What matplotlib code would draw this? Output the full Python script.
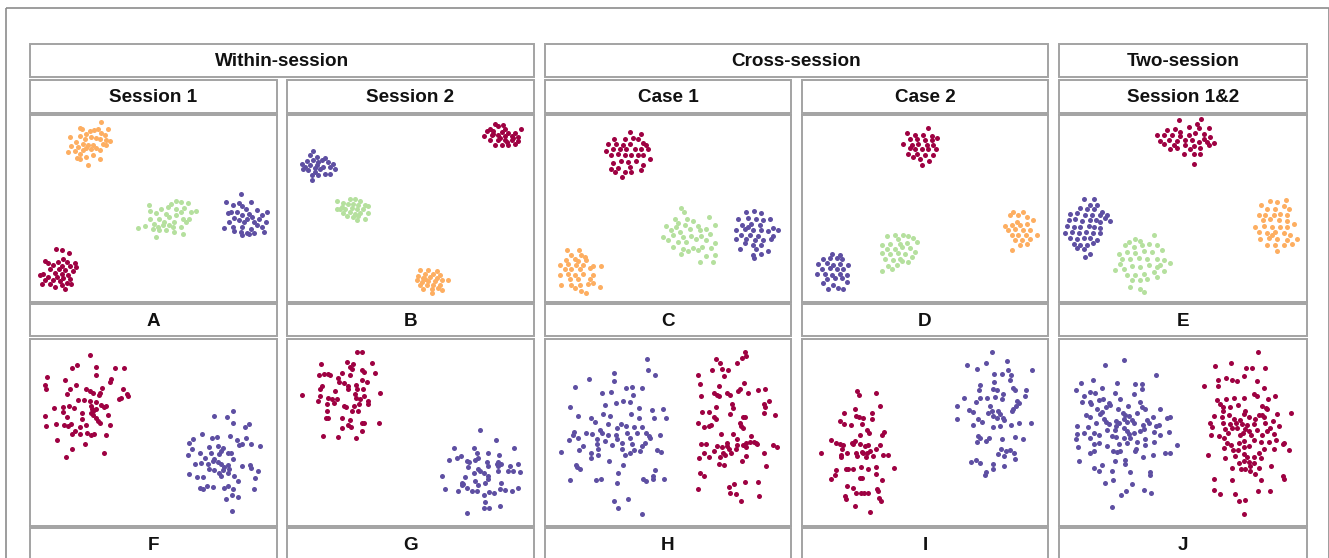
import numpy as np
import matplotlib
matplotlib.use("Agg")
import matplotlib.pyplot as plt
from matplotlib.patches import Rectangle

# cluster colours (Spectral-like)
RED, ORANGE, GREEN, PURPLE = "#9e0142", "#fdae61", "#b5e09e", "#5e4fa2"

GROUPS = ["Within-session", "Cross-session", "Two-session"]
SUBTITLES = ["Session 1", "Session 2", "Case 1", "Case 2", "Session 1&2"]
TOP_LABELS = ["A", "B", "C", "D", "E"]
BOTTOM_LABELS = ["F", "G", "H", "I", "J"]

# embedding coordinates (panel units, y grows downward)
A_ORANGE = [(213,30),(150,48),(157,50),(205,50),(235,52),(180,58),(192,55),(170,65),(215,62),(225,68),
            (120,75),(150,72),(165,80),(185,75),(200,78),(210,80),(230,85),(240,88),(140,90),(160,95),
            (175,98),(190,100),(220,95),(125,103),(145,105),(170,108),(200,108),(230,100),(115,120),(135,118),
            (150,125),(160,115),(185,112),(210,115),(142,138),(150,140),(170,135),(190,130),(212,140),(175,158)]
A_GREEN = [(440,268),(455,270),(475,272),(425,275),(357,278),(415,285),(440,290),(465,288),(500,297),(485,300),
           (395,292),(360,298),(380,302),(410,305),(455,300),(440,310),(420,315),(390,320),(360,320),(480,320),
           (460,322),(470,330),(435,330),(405,330),(375,335),(345,342),(325,348),(385,345),(400,340),(430,345),
           (455,345),(370,352),(390,355),(410,355),(460,365),(435,360),(380,375),(420,340)]
A_PURPLE = [(635,247),(590,270),(630,272),(665,270),(610,280),(640,283),(605,300),(650,290),(685,293),(715,300),
            (595,302),(625,300),(660,305),(700,310),(640,310),(670,315),(615,318),(655,320),(690,322),(600,330),
            (630,325),(645,330),(675,330),(710,330),(585,347),(610,345),(640,345),(665,350),(685,340),(700,345),
            (615,358),(635,360),(655,362),(675,362),(705,360),(640,370),(660,365)]
A_RED = [(78,412),(95,415),(118,422),(100,440),(45,448),(55,452),(85,450),(110,450),(135,453),(70,460),
         (95,462),(120,462),(140,465),(60,472),(88,472),(105,475),(130,478),(40,485),(75,482),(95,485),
         (115,490),(30,490),(55,495),(80,495),(100,498),(120,500),(45,505),(70,505),(90,508),(110,512),
         (35,515),(60,515),(95,518),(75,525),(105,532),(125,515)]

B_RED = [(630,37),(640,42),(660,50),(615,50),(708,52),(605,58),(625,58),(650,60),(670,62),(690,62),
         (598,72),(620,70),(640,70),(660,72),(680,72),(700,75),(615,85),(640,85),(660,85),(680,85),
         (698,88),(630,98),(650,100),(670,100),(690,95),(625,65),(645,78),(665,90),(685,78),(655,40)]
B_PURPLE = [(85,118),(75,128),(95,135),(120,138),(65,148),(50,155),(85,145),(100,150),(130,150),(145,155),
            (60,165),(75,160),(95,160),(115,165),(135,165),(150,170),(70,175),(90,180),(105,172),(80,190),
            (100,188),(120,185),(135,185),(80,205),(110,145),(55,170),(90,168)]
B_GREEN = [(195,262),(210,262),(225,268),(155,268),(175,272),(190,275),(205,275),(220,280),(240,280),(250,283),
           (165,290),(180,290),(200,288),(215,292),(235,292),(155,292),(175,302),(195,300),(210,305),(225,302),
           (248,302),(185,312),(205,315),(220,312),(240,322),(215,325),(170,285)]
B_ORANGE = [(405,475),(430,475),(455,478),(420,485),(445,485),(465,490),(400,493),(415,497),(435,495),(455,497),
            (395,505),(410,510),(430,508),(450,508),(470,505),(488,503),(405,518),(425,520),(445,520),(465,518),
            (415,530),(440,532),(460,528),(470,535),(440,542),(420,500)]

C_RED = [(262,60),(295,66),(212,82),(245,80),(270,78),(285,80),(195,95),(220,95),(240,98),(260,95),
         (300,92),(310,100),(190,118),(210,112),(230,110),(250,112),(275,110),(295,112),(315,112),(205,130),
         (225,125),(245,130),(265,130),(285,128),(300,130),(322,140),(210,152),(235,148),(255,150),(280,148),
         (205,170),(225,168),(260,165),(300,160),(215,180),(245,180),(265,180),(295,175),(237,195)]
C_GREEN = [(415,288),(422,300),(395,320),(432,320),(497,315),(450,328),(370,342),(405,333),(425,340),(465,342),
           (515,338),(385,355),(410,360),(440,352),(470,355),(490,350),(360,375),(390,368),(420,375),(445,372),
           (475,372),(500,365),(375,385),(405,390),(430,390),(460,382),(490,385),(515,392),(390,405),(420,410),
           (450,408),(478,405),(505,408),(435,418),(465,415),(415,425),(490,432),(515,428),(470,450),(510,450),
           (400,345)]
C_PURPLE = [(610,300),(632,298),(655,302),(585,320),(615,318),(640,322),(660,325),(680,320),(598,338),(625,335),
            (650,338),(690,348),(705,355),(580,355),(605,352),(630,355),(655,355),(675,358),(595,368),(620,368),
            (645,372),(690,372),(578,380),(610,380),(635,385),(660,385),(685,380),(605,392),(630,398),(655,398),
            (590,410),(640,410),(675,418),(630,428),(655,425),(632,438),(615,345)]
C_ORANGE = [(72,415),(107,415),(85,430),(115,430),(125,435),(68,445),(95,442),(105,448),(130,445),(50,458),
            (75,455),(100,458),(120,460),(150,462),(175,462),(65,470),(85,470),(110,472),(140,468),(50,488),
            (75,485),(95,490),(120,487),(150,490),(80,500),(105,500),(140,500),(55,518),(85,520),(110,518),
            (135,515),(170,525),(95,528),(115,538),(130,542),(150,512)]

D_RED = [(385,48),(320,63),(345,70),(370,68),(395,72),(410,78),(330,82),(350,82),(375,85),(395,85),
         (310,95),(335,98),(355,95),(380,100),(400,100),(345,110),(365,112),(385,112),(408,112),(325,125),
         (350,125),(375,128),(400,130),(340,135),(360,140),(388,148),(365,160),(330,108)]
D_ORANGE = [(640,300),(668,300),(630,310),(655,310),(680,315),(700,325),(615,342),(635,340),(660,338),(680,335),
            (625,355),(645,352),(670,355),(690,355),(635,368),(655,370),(678,370),(710,368),(645,385),(665,385),
            (690,382),(660,398),(680,395),(635,413),(650,330)]
D_GREEN = [(285,368),(310,368),(325,372),(260,372),(295,382),(340,378),(245,398),(270,395),(300,395),(320,392),
           (350,390),(260,410),(285,410),(305,405),(330,408),(345,420),(245,422),(270,425),(295,422),(315,425),
           (335,435),(255,440),(280,445),(305,448),(325,450),(290,460),(265,462),(245,478),(275,472),(300,440)]
D_PURPLE = [(95,425),(120,428),(70,440),(90,438),(110,438),(125,440),(55,455),(80,452),(100,458),(120,455),
            (145,460),(65,470),(90,468),(110,470),(130,470),(50,485),(75,485),(95,490),(120,485),(140,488),
            (80,500),(105,498),(125,498),(70,512),(100,520),(140,510),(115,528),(85,530),(130,532)]

E_RED = [(365,25),(432,20),(420,35),(395,45),(330,55),(355,52),(455,48),(300,70),(320,68),(345,70),
         (370,72),(395,68),(415,62),(440,65),(460,75),(310,88),(335,85),(360,88),(385,85),(405,85),
         (425,90),(450,90),(470,92),(340,110),(360,108),(385,100),(410,102),(430,108),(455,100),(380,125),
         (410,125),(430,125),(412,155),(320,95),(350,100),(440,80),(400,110),(370,60),(425,48)]
E_PURPLE = [(82,262),(112,262),(100,280),(120,278),(70,288),(90,292),(112,292),(135,300),(40,305),(60,302),
            (85,310),(105,310),(128,310),(150,310),(35,325),(55,322),(75,328),(98,325),(118,325),(158,328),
            (30,342),(50,345),(70,345),(95,342),(112,345),(130,348),(25,362),(45,360),(65,362),(88,360),
            (108,362),(128,362),(40,378),(60,380),(80,378),(100,378),(120,385),(50,395),(70,400),(90,398),
            (108,392),(60,408),(80,410),(100,425),(85,435),(130,330),(145,318)]
E_GREEN = [(290,370),(235,382),(215,390),(250,388),(205,400),(230,405),(255,400),(275,395),(300,398),(185,425),
           (210,420),(235,422),(260,418),(285,420),(315,415),(195,440),(220,440),(245,438),(270,440),(300,440),
           (320,445),(340,452),(175,475),(200,470),(225,462),(250,465),(275,460),(300,465),(210,490),(235,488),
           (260,485),(290,480),(320,478),(225,505),(250,505),(270,500),(300,495),(250,532),(220,525),(260,540),
           (190,455),(310,458)]
E_ORANGE = [(640,268),(660,270),(688,265),(612,278),(680,282),(630,292),(655,290),(695,292),(605,310),(625,308),
            (650,310),(670,305),(690,310),(618,325),(640,322),(665,325),(690,328),(710,335),(595,345),(620,342),
            (645,345),(668,345),(690,345),(605,360),(630,362),(655,360),(680,362),(700,368),(610,380),(635,378),
            (660,380),(690,385),(720,380),(630,400),(655,398),(680,400),(660,418),(705,395),(645,370)]

F_RED = [(180,57),(128,97),(142,87),(200,92),(256,97),(282,95),(200,117),(52,124),(104,133),(245,130),
         (240,138),(45,148),(47,158),(138,147),(120,160),(170,158),(180,165),(190,172),(210,170),(217,155),
         (280,158),(110,175),(208,178),(292,175),(295,180),(267,190),(275,185),(145,192),(163,192),(180,195),
         (198,198),(72,215),(98,212),(117,210),(132,215),(185,210),(215,207),(228,210),(188,220),(190,225),
         (200,218),(222,213),(98,228),(158,232),(185,232),(190,238),(200,245),(45,240),(112,242),(158,248),
         (235,238),(205,255),(210,260),(78,263),(102,267),(115,270),(125,263),(150,272),(168,266),(240,268),
         (47,270),(135,285),(126,295),(150,293),(172,290),(185,298),(193,293),(228,298),(80,313),(165,323),
         (126,338),(222,350),(107,362)]
F_PURPLE = [(553,239),(593,243),(611,226),(611,262),(648,272),(660,265),(519,293),(490,308),(548,305),(563,302),
            (601,299),(625,313),(652,305),(480,322),(540,332),(565,330),(580,335),(630,326),(640,325),(667,325),
            (694,330),(488,338),(513,352),(528,366),(545,350),(570,355),(575,345),(596,350),(605,352),(610,368),
            (476,357),(498,383),(515,380),(535,385),(550,375),(555,370),(565,378),(575,385),(585,392),(595,388),
            (600,398),(640,390),(662,388),(665,395),(540,400),(555,402),(568,410),(580,403),(595,410),(615,420),
            (688,405),(480,415),(502,423),(522,423),(575,420),(627,434),(678,426),(512,455),(520,460),(532,450),
            (550,452),(585,455),(596,450),(612,460),(676,460),(590,488),(608,478),(628,483),(609,525)]

G_RED = [(215,47),(230,47),(108,83),(185,78),(195,92),(205,85),(200,98),(262,82),(102,118),(117,113),
         (130,113),(135,118),(172,110),(196,118),(230,103),(238,108),(270,110),(112,150),(105,158),(158,125),
         (162,138),(178,140),(190,150),(212,148),(232,133),(245,138),(150,165),(188,158),(215,160),(210,175),
         (235,160),(50,178),(105,180),(128,187),(140,190),(155,188),(212,185),(224,190),(237,180),(248,195),
         (285,170),(100,196),(125,203),(148,200),(178,210),(182,213),(208,210),(222,205),(250,205),(126,226),
         (200,225),(218,224),(123,245),(130,245),(170,245),(196,252),(230,262),(237,262),(282,260),(188,268),
         (198,272),(172,275),(232,285),(115,300),(160,303),(213,307)]
G_PURPLE = [(585,283),(633,313),(507,335),(567,335),(688,337),(527,360),(553,378),(575,352),(578,365),(610,352),
            (643,358),(515,365),(493,373),(545,375),(570,372),(605,378),(640,378),(647,383),(675,390),(700,383),
            (550,392),(580,398),(608,390),(635,385),(640,390),(470,420),(540,422),(568,410),(585,405),(598,410),
            (608,420),(638,405),(668,405),(685,405),(704,408),(530,440),(535,445),(570,435),(578,448),(600,440),
            (610,430),(648,440),(545,455),(560,465),(575,465),(612,468),(626,470),(645,460),(660,462),(680,465),
            (698,455),(480,460),(520,465),(598,478),(601,497),(645,510),(597,516),(613,516),(545,530),(530,448)]

H_PURPLE = [(313,70),(316,102),(335,118),(213,112),(137,130),(213,135),(97,153),(248,157),(268,153),(296,155),
            (177,170),(203,167),(270,177),(186,207),(219,200),(240,195),(262,198),(80,214),(289,217),(326,222),
            (359,220),(105,240),(180,233),(264,234),(144,246),(156,257),(288,247),(334,246),(369,247),(195,265),
            (235,263),(170,283),(222,275),(250,270),(273,272),(296,272),(92,288),(148,293),(178,290),(196,297),
            (220,297),(252,292),(282,290),(310,290),(318,300),(91,298),(78,311),(106,306),(162,310),(187,316),
            (223,310),(260,305),(322,306),(350,296),(306,322),(208,326),(238,321),(268,323),(162,325),(297,330),
            (53,347),(108,342),(166,340),(237,340),(273,343),(290,345),(342,341),(355,348),(143,350),(143,365),
            (165,357),(246,357),(261,352),(198,375),(240,388),(98,386),(103,392),(110,400),(335,402),(224,412),
            (81,433),(160,432),(175,430),(223,440),(300,430),(310,435),(330,420),(330,430),(362,430),(255,488),
            (214,496),(225,516),(297,535),(120,330),(130,290),(200,240)]
H_RED = [(607,47),(610,60),(598,66),(518,68),(530,80),(582,80),(506,102),(538,98),(555,102),(466,117),
         (542,120),(470,143),(602,140),(527,150),(590,160),(586,165),(512,172),(521,177),(552,172),(562,177),
         (616,170),(645,162),(667,158),(475,180),(528,180),(677,196),(663,205),(666,212),(567,203),(571,215),
         (520,212),(478,227),(498,227),(562,233),(663,230),(697,237),(512,243),(520,248),(600,242),(605,244),
         (466,260),(482,272),(497,270),(505,268),(591,262),(595,270),(600,275),(535,295),(570,295),(625,300),
         (582,310),(552,320),(620,318),(610,322),(632,318),(640,320),(642,325),(475,325),(490,325),(521,330),
         (538,332),(553,330),(559,340),(582,326),(580,338),(600,328),(608,332),(690,328),(703,332),(484,350),
         (514,345),(540,350),(545,357),(564,350),(468,365),(497,363),(530,362),(610,360),(664,352),(596,375),
         (528,383),(542,387),(668,390),(471,410),(482,420),(465,460),(558,452),(572,445),(607,438),(645,437),
         (560,472),(578,475),(595,495),(648,480)]

I_RED = [(171,165),(176,178),(227,170),(241,210),(133,230),(165,218),(167,240),(177,243),(190,245),(215,232),
         (216,248),(120,255),(133,265),(152,268),(187,265),(200,283),(206,290),(251,288),(247,298),(181,298),
         (94,313),(107,321),(120,325),(130,327),(157,320),(165,315),(160,325),(180,325),(195,330),(203,328),
         (240,328),(125,340),(140,350),(168,350),(185,348),(190,352),(200,352),(210,345),(228,340),(62,350),
         (123,358),(124,363),(171,360),(197,362),(218,360),(248,358),(264,357),(138,400),(145,398),(160,398),
         (183,394),(205,400),(228,394),(281,395),(108,403),(106,418),(94,430),(180,425),(185,425),(227,415),
         (245,432),(140,450),(158,455),(168,470),(183,472),(192,470),(205,470),(232,460),(235,465),(134,480),
         (138,488),(236,486),(242,496),(165,510),(210,528)]
I_PURPLE = [(576,48),(501,88),(532,100),(558,82),(622,76),(695,101),(606,113),(583,113),(625,103),(632,118),
            (583,138),(540,148),(538,162),(580,160),(590,163),(630,133),(640,155),(645,162),(610,173),(678,162),
            (676,181),(492,185),(541,187),(562,187),(584,182),(605,190),(528,198),(472,210),(506,222),(520,228),
            (570,210),(576,225),(595,225),(600,235),(564,232),(650,196),(658,200),(648,210),(638,218),(636,225),
            (472,250),(518,268),(533,250),(546,258),(580,240),(590,247),(610,245),(612,252),(632,268),(580,272),
            (600,270),(658,262),(693,262),(533,300),(540,305),(530,318),(557,316),(567,306),(605,310),(645,303),
            (668,308),(604,338),(618,345),(630,342),(641,352),(595,353),(612,360),(645,370),(512,378),(528,372),
            (540,382),(578,383),(578,400),(612,390),(557,408),(555,417)]

J_PURPLE = [(201,73),(143,88),(296,118),(108,133),(72,140),(180,140),(235,143),(255,145),(58,162),(135,155),
            (100,167),(115,172),(232,175),(254,158),(173,172),(137,190),(127,193),(155,200),(160,208),(248,198),
            (76,197),(99,198),(101,205),(148,212),(212,210),(184,218),(255,213),(265,220),(310,220),(88,238),
            (98,242),(130,233),(135,228),(198,232),(205,238),(215,240),(240,230),(287,242),(330,245),(340,243),
            (140,250),(117,262),(148,258),(155,265),(178,255),(185,262),(200,250),(210,258),(225,252),(232,262),
            (270,252),(276,262),(298,270),(305,268),(60,270),(92,272),(178,270),(200,275),(258,268),(82,292),
            (60,293),(110,290),(125,297),(150,282),(175,282),(210,285),(215,295),(232,290),(250,285),(262,278),
            (290,288),(335,287),(58,310),(100,305),(165,300),(178,302),(200,305),(220,305),(240,318),(263,310),
            (290,317),(308,298),(63,332),(110,325),(125,320),(150,330),(185,325),(210,320),(237,338),(263,328),
            (360,327),(100,350),(110,345),(168,345),(180,348),(190,345),(235,345),(288,358),(325,352),(340,350),
            (66,375),(175,375),(203,372),(205,383),(258,363),(112,395),(126,405),(165,405),(135,388),(218,407),
            (280,408),(280,418),(167,433),(143,440),(225,443),(208,466),(193,477),(260,462),(281,472),(165,513),
            (80,180),(120,220),(190,190)]
J_RED = [(603,47),(523,81),(475,90),(568,97),(585,96),(625,95),(560,120),(482,132),(508,127),(525,133),
         (540,135),(600,135),(440,150),(484,150),(622,155),(590,175),(600,180),(560,185),(530,185),(480,192),
         (506,188),(488,205),(655,180),(633,190),(520,213),(542,208),(615,210),(628,215),(630,220),(498,225),
         (515,238),(563,225),(560,233),(577,243),(605,237),(615,237),(660,233),(703,230),(460,260),(496,243),
         (530,248),(550,253),(595,250),(620,243),(648,255),(497,260),(520,265),(536,262),(554,265),(569,268),
         (590,263),(625,262),(466,272),(505,280),(525,275),(540,275),(565,280),(575,285),(600,282),(640,275),
         (665,270),(485,300),(500,305),(512,292),(548,298),(557,290),(582,298),(615,298),(630,285),(650,295),
         (462,298),(510,320),(522,328),(545,320),(560,316),(592,313),(612,318),(635,318),(658,313),(678,325),
         (682,322),(500,335),(528,342),(542,342),(560,333),(575,330),(607,350),(620,340),(650,338),(696,343),
         (452,358),(505,365),(535,360),(560,355),(570,362),(590,362),(612,365),(545,382),(560,375),(575,378),
         (590,382),(525,397),(553,400),(565,398),(578,405),(605,395),(643,390),(472,430),(525,432),(595,415),
         (612,432),(678,420),(680,430),(470,462),(488,474),(535,474),(604,466),(640,465),(545,495),(565,492),
         (562,533),(580,390),(498,214),(470,240)]

TOP = [[(A_RED, RED), (A_ORANGE, ORANGE), (A_GREEN, GREEN), (A_PURPLE, PURPLE)],
       [(B_RED, RED), (B_ORANGE, ORANGE), (B_GREEN, GREEN), (B_PURPLE, PURPLE)],
       [(C_RED, RED), (C_ORANGE, ORANGE), (C_GREEN, GREEN), (C_PURPLE, PURPLE)],
       [(D_RED, RED), (D_ORANGE, ORANGE), (D_GREEN, GREEN), (D_PURPLE, PURPLE)],
       [(E_RED, RED), (E_ORANGE, ORANGE), (E_GREEN, GREEN), (E_PURPLE, PURPLE)]]
BOTTOM = [[(F_RED, RED), (F_PURPLE, PURPLE)],
          [(G_RED, RED), (G_PURPLE, PURPLE)],
          [(H_RED, RED), (H_PURPLE, PURPLE)],
          [(I_RED, RED), (I_PURPLE, PURPLE)],
          [(J_RED, RED), (J_PURPLE, PURPLE)]]

# --- layout in pixels ---
W, H = 1329, 558
COLS = [(30, 277), (287, 534), (545, 791), (802, 1048), (1059, 1307)]
XLIM = [(0, 744), (6, 747), (6, 744), (6, 744), (6, 750)]
GROUP_SPANS = [(30, 534), (545, 1048), (1059, 1307)]
EDGE = "#a3a3a3"
FONT = dict(family="Liberation Sans", weight="bold", fontsize=13.6, color="#111111")

fig = plt.figure(figsize=(W / 100, H / 100), dpi=100)
bg = fig.add_axes([0, 0, 1, 1])
bg.set_xlim(0, W)
bg.set_ylim(H, 0)
bg.axis("off")

# outer frame
bg.add_patch(Rectangle((6, 8), W - 6, H + 20, fill=False, ec="#8c8c8c", lw=1.2))


def box(x0, x1, y0, y1, text=None, ty=None):
    bg.add_patch(Rectangle((x0, y0), x1 - x0, y1 - y0, fc="white", ec=EDGE, lw=1.4))
    if text:
        y = (y0 + y1) / 2 + 1 if ty is None else ty
        bg.text((x0 + x1) / 2, y, text, ha="center", va="center", **FONT)


for (x0, x1), g in zip(GROUP_SPANS, GROUPS):
    box(x0, x1, 44, 77, g)
for (x0, x1), s in zip(COLS, SUBTITLES):
    box(x0, x1, 80, 113, s)
for (x0, x1), s in zip(COLS, TOP_LABELS):
    box(x0, x1, 304, 336, s)
for (x0, x1), s in zip(COLS, BOTTOM_LABELS):
    box(x0, x1, 528, 575, s, ty=545)


def panel(x0, x1, y0, y1, xlim, clusters):
    ax = fig.add_axes([x0 / W, 1 - y1 / H, (x1 - x0) / W, (y1 - y0) / H])
    for pts, c in clusters:
        p = np.array(pts, dtype=float)
        ax.scatter(p[:, 0], p[:, 1], s=13, color=c, linewidths=0)
    ax.set_xlim(*xlim)
    ax.set_ylim(570, 9)
    ax.set_xticks([])
    ax.set_yticks([])
    for sp in ax.spines.values():
        sp.set_color(EDGE)
        sp.set_linewidth(1.4)


for (x0, x1), xl, cl in zip(COLS, XLIM, TOP):
    panel(x0, x1, 115, 302, xl, cl)
for (x0, x1), xl, cl in zip(COLS, XLIM, BOTTOM):
    panel(x0, x1, 339, 526, xl, cl)

fig.savefig("out.png", dpi=100)
